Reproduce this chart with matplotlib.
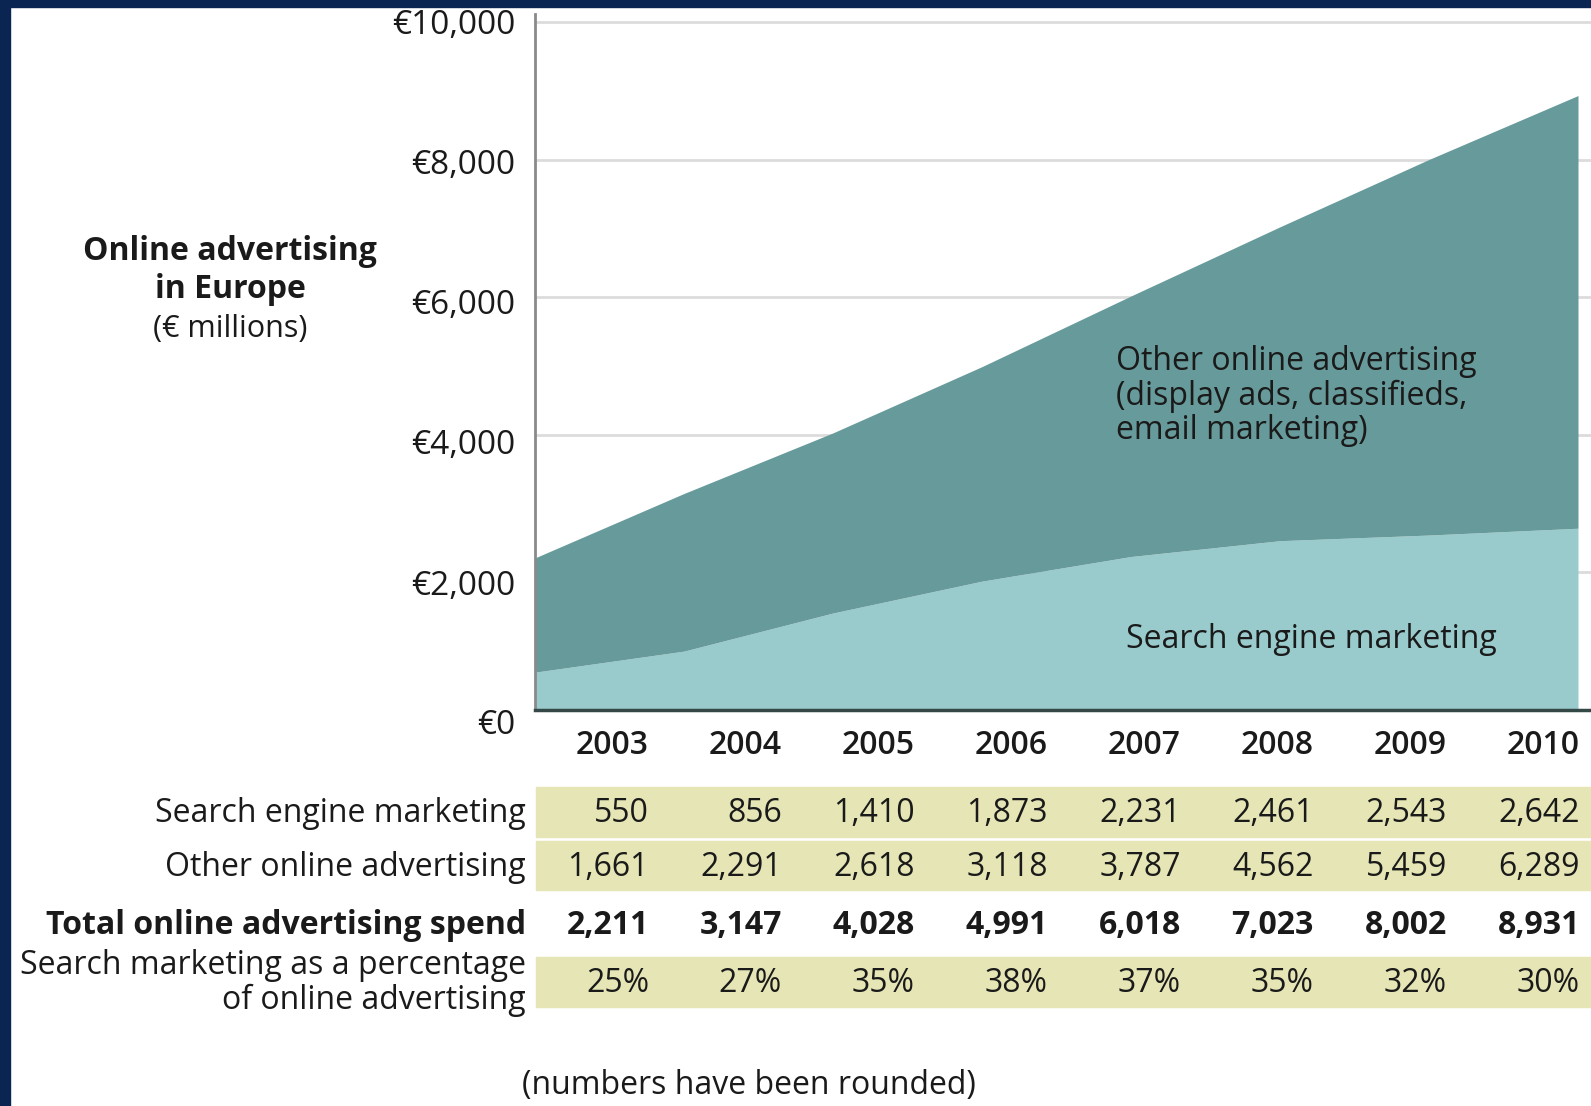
import matplotlib
matplotlib.use("Agg")
import matplotlib.pyplot as plt
from matplotlib.patches import Rectangle
from matplotlib.ticker import FuncFormatter
from matplotlib.transforms import ScaledTranslation

plt.rcParams['font.family'] = ['Open Sans', 'DejaVu Sans']

years = [2003, 2004, 2005, 2006, 2007, 2008, 2009, 2010]
search = [550, 856, 1410, 1873, 2231, 2461, 2543, 2642]
other = [1661, 2291, 2618, 3118, 3787, 4562, 5459, 6289]
total = [2211, 3147, 4028, 4991, 6018, 7023, 8002, 8931]
pct = [25, 27, 35, 38, 37, 35, 32, 30]
yticks = [0, 2000, 4000, 6000, 8000, 10000]

W, H = 1591, 1106
dark = '#679a9a'
light = '#9acbcc'
band = '#e5e5b5'
ink = '#1a1a1a'
fs = 23

fig = plt.figure(figsize=(W / 100, H / 100), dpi=100)


def fx(x):
    return x / W


def fy(y):
    return 1 - y / H


# navy frame on top and left
fig.patches.append(Rectangle((0, 0), fx(10), 1, transform=fig.transFigure,
                             color='#0b2552', zorder=0))
fig.patches.append(Rectangle((0, fy(7)), 1, 7 / H, transform=fig.transFigure,
                             color='#0b2552', zorder=0))

# main area chart
ax = fig.add_axes([fx(535), fy(710), 1 - fx(535), (710 - 14) / H])
top = [s + o for s, o in zip(search, other)]
ax.fill_between(years, 0, search, color=light, lw=0, zorder=2)
ax.fill_between(years, search, top, color=dark, lw=0, zorder=2)
ax.set_xlim(2003, 2003 + 7 * (W - 535) / (1578 - 535))
ax.set_ylim(0, 10000 * (710 - 14) / (710 - 22))
ax.set_yticks(yticks)
ax.yaxis.set_major_formatter(FuncFormatter(lambda v, p: '€{:,.0f}'.format(v)))
ax.yaxis.grid(True, color='#dcdcdc', lw=2, zorder=1)
ax.set_axisbelow(True)
ax.tick_params(axis='y', length=0, pad=14, labelsize=24, labelcolor=ink)
ax.set_xticks([])
# labels drift a little below their gridlines toward the bottom
for v, lbl in zip(yticks, ax.get_yticklabels()):
    off = 12 * (1 - v / 10000)
    lbl.set_transform(lbl.get_transform() + ScaledTranslation(0, -off / 100, fig.dpi_scale_trans))
for s in ['top', 'right']:
    ax.spines[s].set_visible(False)
ax.spines['left'].set_color('#8a8a8a')
ax.spines['left'].set_linewidth(2)
ax.spines['bottom'].set_color('#344848')
ax.spines['bottom'].set_linewidth(2.5)

# in-chart labels
for y, line in zip([361, 396, 431], ['Other online advertising',
                                     '(display ads, classifieds,',
                                     'email marketing)']):
    fig.text(fx(1116), fy(y), line, fontsize=fs, color=ink, ha='left', va='center')
fig.text(fx(1126), fy(640), 'Search engine marketing', fontsize=fs, color=ink,
         ha='left', va='center')

# left title
fig.text(fx(230), fy(251), 'Online advertising', fontsize=23, fontweight='bold',
         ha='center', va='center', color=ink)
fig.text(fx(230), fy(289), 'in Europe', fontsize=23, fontweight='bold',
         ha='center', va='center', color=ink)
fig.text(fx(230), fy(329), '(€ millions)', fontsize=22,
         ha='center', va='center', color=ink)

# table under the chart
col_right = [649 + 133 * i for i in range(len(years))]
for y0, y1 in [(787, 837), (841, 890), (957, 1007)]:
    fig.patches.append(Rectangle((fx(536), fy(y1)), 1 - fx(536), (y1 - y0) / H,
                                 transform=fig.transFigure, color=band, zorder=0))

for i, yr in enumerate(years):
    fig.text(fx(col_right[i]), fy(745), str(yr), fontsize=fs, fontweight='semibold',
             ha='right', va='center', color=ink)
    fig.text(fx(col_right[i]), fy(814), f'{search[i]:,}', fontsize=fs,
             ha='right', va='center', color=ink)
    fig.text(fx(col_right[i]), fy(868), f'{other[i]:,}', fontsize=fs,
             ha='right', va='center', color=ink)
    fig.text(fx(col_right[i]), fy(925), f'{total[i]:,}', fontsize=fs, fontweight='bold',
             ha='right', va='center', color=ink)
    fig.text(fx(col_right[i]), fy(983), f'{pct[i]}%', fontsize=fs,
             ha='right', va='center', color=ink)

lab_x = fx(526)
fig.text(lab_x, fy(814), 'Search engine marketing', fontsize=fs, ha='right', va='center', color=ink)
fig.text(lab_x, fy(868), 'Other online advertising', fontsize=fs, ha='right', va='center', color=ink)
fig.text(lab_x, fy(925), 'Total online advertising spend', fontsize=23, fontweight='bold',
         ha='right', va='center', color=ink)
fig.text(lab_x, fy(965), 'Search marketing as a percentage', fontsize=fs, ha='right',
         va='center', color=ink)
fig.text(lab_x, fy(1000), 'of online advertising', fontsize=fs, ha='right', va='center', color=ink)

fig.text(fx(749), fy(1094), '(numbers have been rounded)', fontsize=fs, ha='center',
         va='baseline', color=ink)

fig.savefig('out.png', dpi=100, facecolor='white')
